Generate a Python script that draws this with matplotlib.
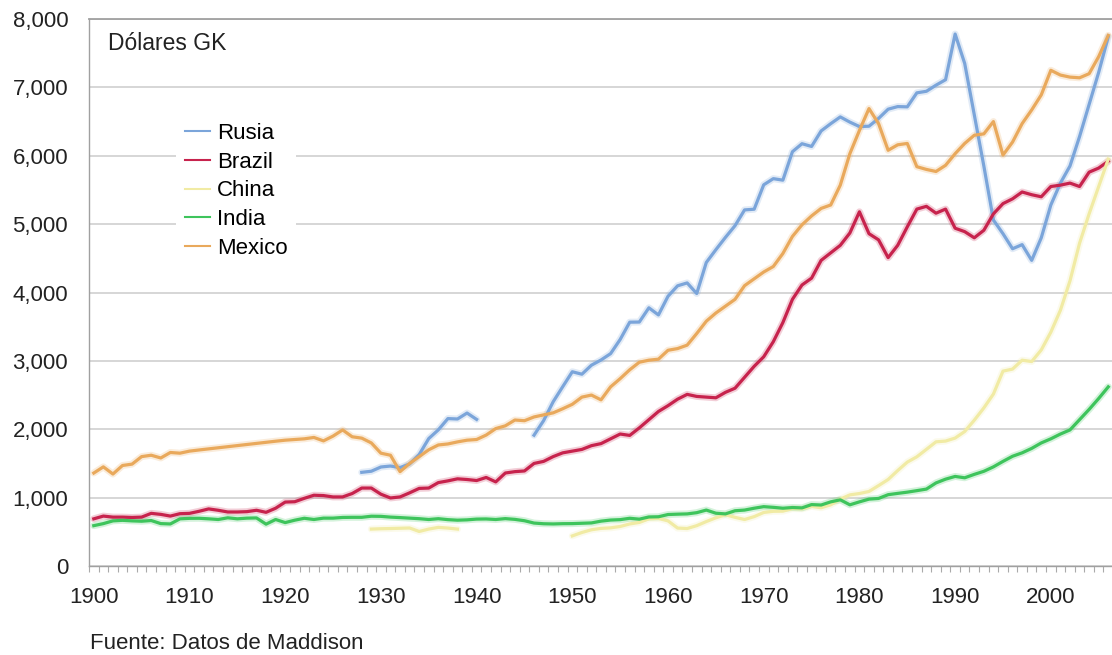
import numpy as np
import matplotlib
matplotlib.use("Agg")
import matplotlib.pyplot as plt
from matplotlib.ticker import FuncFormatter, FixedLocator

nan = np.nan
years = list(range(1900, 2007))

rusia = [nan] * 28 + [
    1370, 1386, 1448, 1462, 1439, 1493, 1630, 1864, 1991, 2156, 2150, 2237, 2144,
] + [nan] * 5 + [
    1913, 2126, 2402, 2623, 2841, 2805, 2937, 3013, 3106, 3313,
    3566, 3568, 3776, 3672, 3945, 4098, 4140, 3985, 4439, 4626,
    4806, 4977, 5208, 5218, 5575, 5665, 5643, 6059, 6176, 6136,
    6363, 6469, 6568, 6492, 6427, 6432, 6546, 6681, 6719, 6715,
    6920, 6943, 7032, 7112, 7780, 7350, 6600, 5850, 5060, 4860,
    4640, 4700, 4470, 4800, 5280, 5600, 5850, 6280, 6750, 7220, 7740,
]

brazil = [
    690, 730, 715, 715, 710, 715, 770, 755, 730, 765, 770,
    800, 835, 815, 790, 790, 795, 815, 785, 845, 935,
    940, 990, 1035, 1030, 1010, 1010, 1060, 1140, 1140, 1050,
    995, 1010, 1070, 1135, 1140, 1220, 1245, 1275, 1265, 1250,
    1295, 1230, 1360, 1380, 1390, 1500, 1530, 1600, 1655, 1680,
    1705, 1760, 1790, 1860, 1930, 1910, 2020, 2140, 2260, 2345,
    2440, 2510, 2480, 2470, 2460, 2540, 2600, 2760, 2920, 3060,
    3280, 3560, 3900, 4110, 4210, 4470, 4580, 4690, 4870, 5180,
    4860, 4770, 4510, 4690, 4960, 5220, 5260, 5160, 5220, 4940,
    4890, 4800, 4910, 5150, 5300, 5370, 5470, 5430, 5400, 5550,
    5570, 5600, 5550, 5760, 5820, 5920,
]

china = [nan] * 29 + [
    540, 545, 548, 552, 556, 505, 540, 565, 555, 540,
] + [nan] * 11 + [
    440, 490, 530, 550, 558, 578, 615, 637, 690, 695,
    660, 555, 548, 590, 650, 705, 750, 712, 680, 722,
    783, 800, 802, 840, 836, 874, 852, 895, 978, 1040,
    1060, 1090, 1176, 1265, 1396, 1519, 1597, 1706, 1816, 1827,
    1871, 1967, 2132, 2312, 2515, 2850, 2880, 3010, 2990, 3160,
    3420, 3740, 4170, 4720, 5150, 5550, 5950,
]

india = [
    590, 620, 660, 668, 660, 655, 665, 620, 615, 690, 697,
    698, 690, 680, 705, 690, 700, 703, 612, 680, 635,
    670, 698, 680, 700, 700, 710, 712, 712, 728, 726,
    715, 708, 700, 692, 680, 692, 678, 670, 675, 686,
    688, 680, 693, 682, 662, 628, 618, 615, 619, 620,
    625, 630, 656, 672, 678, 698, 685, 717, 720, 753,
    758, 762, 780, 818, 772, 762, 808, 818, 845, 868,
    858, 845, 855, 850, 898, 892, 938, 968, 895, 938,
    978, 988, 1043, 1062, 1080, 1102, 1125, 1215, 1270, 1310,
    1290, 1340, 1385, 1450, 1530, 1605, 1655, 1720, 1800, 1860,
    1930, 1990, 2140, 2290, 2450, 2620,
]

mexico = [
    1360, 1450, 1345, 1470, 1490, 1600, 1620, 1580, 1660, 1650, 1680,
    1697, 1713, 1729, 1745, 1761, 1777, 1793, 1809, 1825, 1840,
    1850, 1860, 1880, 1830, 1900, 1990, 1890, 1870, 1800, 1650,
    1620, 1380, 1500, 1600, 1700, 1770, 1785, 1815, 1840, 1850,
    1915, 2010, 2050, 2135, 2125, 2180, 2210, 2240, 2300, 2365,
    2470, 2500, 2430, 2620, 2740, 2870, 2980, 3010, 3025, 3155,
    3180, 3230, 3400, 3580, 3700, 3800, 3900, 4100, 4200, 4300,
    4380, 4570, 4820, 4990, 5120, 5230, 5280, 5570, 6030, 6370,
    6690, 6470, 6080, 6160, 6180, 5840, 5800, 5770, 5860, 6030,
    6180, 6300, 6320, 6500, 6010, 6200, 6470, 6670, 6890, 7250,
    7180, 7150, 7140, 7200, 7450, 7760,
]

series_names = ["Rusia", "Brazil", "China", "India", "Mexico"]
series_values = [rusia, brazil, china, india, mexico]
series_colors = ["#7BA5DA", "#C7234D", "#F1EBA4", "#3EC45C", "#E9A95C"]

x_tick_labels = [1900, 1910, 1920, 1930, 1940, 1950, 1960, 1970, 1980, 1990, 2000]
y_ticks = [0, 1000, 2000, 3000, 4000, 5000, 6000, 7000, 8000]

plt.rcParams["font.family"] = ["Liberation Sans", "DejaVu Sans"]

W, H = 1112, 655
fig = plt.figure(figsize=(W / 100, H / 100), dpi=100)
ax = fig.add_axes([89 / W, (H - 566) / H, (1114 - 89) / W, (566 - 19) / H])

for name, vals, col in zip(series_names, series_values, series_colors):
    v = np.array(vals, dtype=float)
    ax.plot(years, v, color=col, lw=5, alpha=0.22, solid_capstyle="round",
            solid_joinstyle="round", zorder=2)
    ax.plot(years, v, color=col, lw=2.3, label=name, solid_joinstyle="round",
            zorder=3)

ax.set_xlim(1899.5, 2006.6)
ax.set_ylim(0, 8000)

ax.set_yticks(y_ticks)
ax.yaxis.set_major_formatter(FuncFormatter(lambda v, p: f"{int(v):,}"))
ax.tick_params(axis="y", length=0, pad=15, labelsize=16, colors="#222222")

ax.set_xticks(x_tick_labels)
ax.set_xticklabels([str(t) for t in x_tick_labels])
ax.xaxis.set_minor_locator(FixedLocator([y - 0.5 for y in range(1900, 2008)]))
ax.tick_params(axis="x", which="major", length=0, pad=15, labelsize=16,
               colors="#222222")
ax.tick_params(axis="x", which="minor", length=4, width=0.8, color="#aaaaaa",
               direction="out")

ax.grid(axis="y", color="#cfcfcf", lw=1.2, zorder=0)
ax.set_axisbelow(True)
ax.spines["right"].set_visible(False)
ax.spines["top"].set_color("#a0a0a0")
ax.spines["top"].set_linewidth(1.3)
ax.spines["left"].set_color("#a0a0a0")
ax.spines["left"].set_linewidth(1.0)
ax.spines["bottom"].set_color("#a0a0a0")
ax.spines["bottom"].set_linewidth(1.0)

leg = ax.legend(loc="upper left", bbox_to_anchor=(0.085, 0.826), frameon=True,
                fontsize=16, handlelength=1.13, handletextpad=0.3,
                labelspacing=0.345, borderpad=0.4, borderaxespad=0.0)
leg.get_frame().set_edgecolor("none")
leg.get_frame().set_facecolor("white")
leg.get_frame().set_alpha(1.0)
for line in leg.get_lines():
    line.set_linewidth(1.5)

ax.text(0.0186, 7547, "Dólares GK", transform=ax.get_yaxis_transform(),
        fontsize=16.5, color="#222222", va="baseline", ha="left")

fig.text(90 / W, 1 - 649 / H, "Fuente: Datos de Maddison", fontsize=16,
         color="#222222", va="baseline", ha="left")

fig.savefig("out.png", dpi=100, facecolor="white")
